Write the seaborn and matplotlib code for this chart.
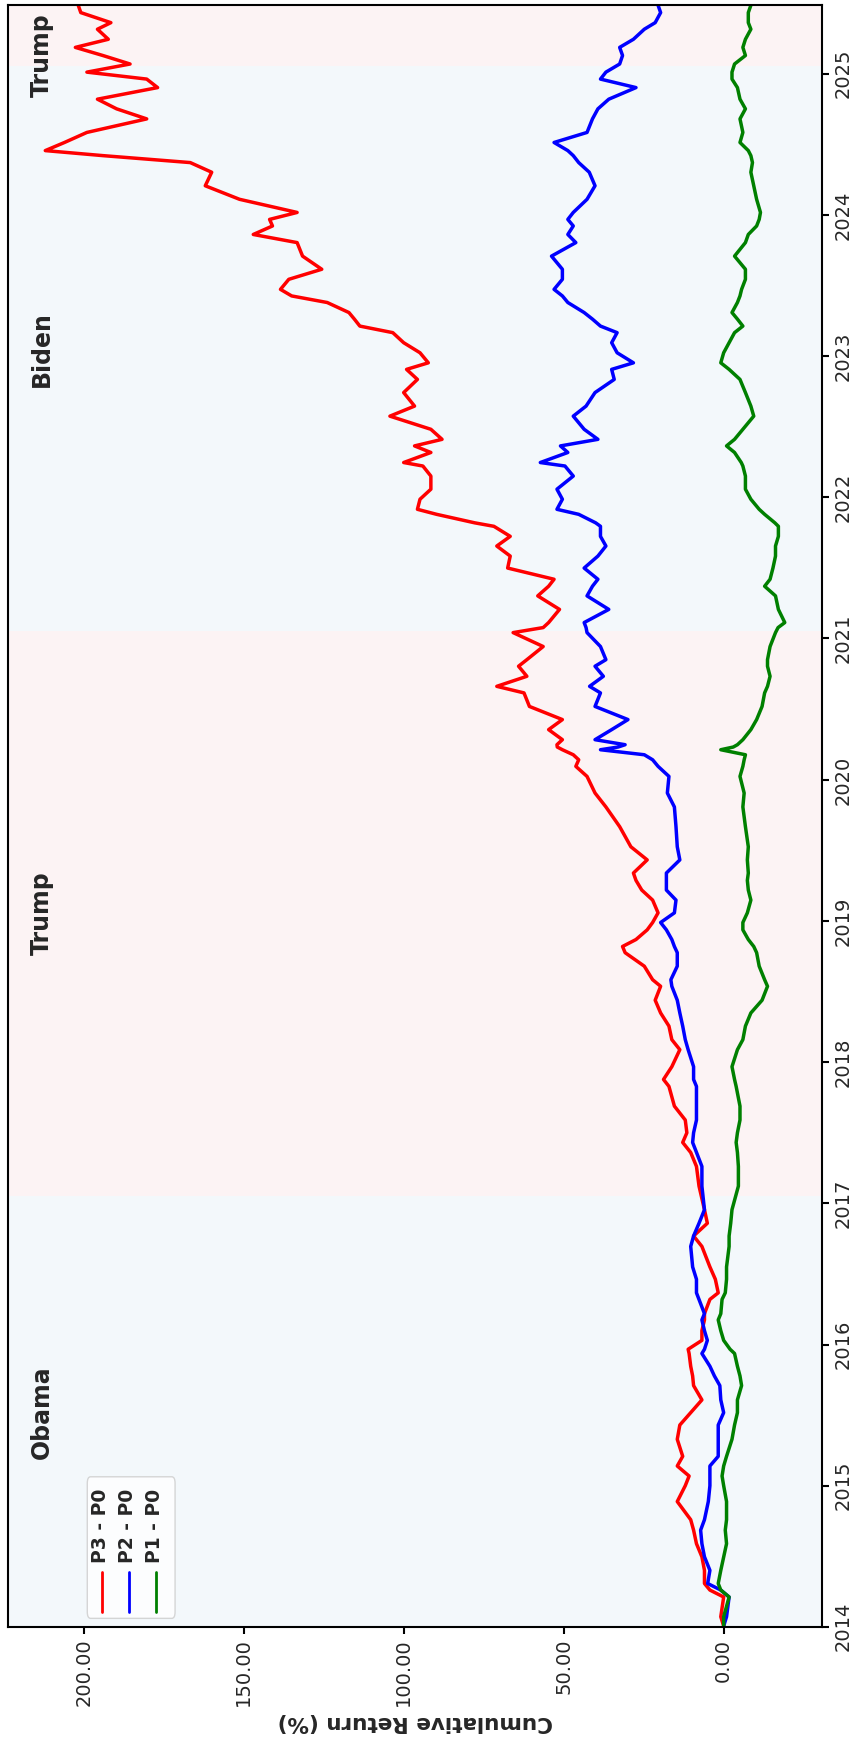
import pandas as pd
import numpy as np
import matplotlib
matplotlib.use('Agg')
import matplotlib.pyplot as plt
import matplotlib.dates as mdates
from matplotlib.patches import FancyBboxPatch
from matplotlib.lines import Line2D
import seaborn as sns

# fechas de muestreo (lectura aproximada del grafico)
dates = [
    '2014-01-03', '2014-01-27', '2014-03-19', '2014-04-06', '2014-04-23', '2014-05-27',
    '2014-07-01', '2014-08-04', '2014-09-08', '2014-10-05', '2014-11-21', '2015-01-01',
    '2015-01-26', '2015-02-21', '2015-03-18', '2015-05-01', '2015-06-07', '2015-07-09',
    '2015-08-11', '2015-09-17', '2015-10-12', '2015-11-06', '2015-12-09', '2015-12-20',
    '2016-01-12', '2016-02-06', '2016-03-05', '2016-03-21', '2016-04-27', '2016-05-14',
    '2016-06-18', '2016-07-20', '2016-09-11', '2016-10-08', '2016-11-10', '2016-12-15',
    '2017-02-14', '2017-04-06', '2017-05-12', '2017-06-07', '2017-07-02', '2017-08-04',
    '2017-09-09', '2017-10-30', '2017-11-17', '2017-12-20', '2018-02-02', '2018-02-28',
    '2018-04-04', '2018-05-08', '2018-06-10', '2018-07-16', '2018-08-02', '2018-09-06',
    '2018-10-11', '2018-10-27', '2018-11-14', '2018-12-09', '2018-12-28', '2019-01-22',
    '2019-02-24', '2019-03-22', '2019-04-16', '2019-05-05', '2019-06-08', '2019-07-12',
    '2019-09-02', '2019-10-23', '2019-11-28', '2020-01-10', '2020-02-05', '2020-02-22',
    '2020-03-06', '2020-03-19', '2020-03-26', '2020-04-01', '2020-04-14', '2020-05-10',
    '2020-06-05', '2020-07-09', '2020-08-13', '2020-08-30', '2020-09-25', '2020-10-21',
    '2020-11-07', '2020-12-11', '2021-01-16', '2021-01-29', '2021-02-11', '2021-03-17',
    '2021-04-21', '2021-05-16', '2021-06-03', '2021-07-02', '2021-08-02', '2021-08-28',
    '2021-09-22', '2021-10-18', '2021-10-27', '2021-11-18', '2021-12-01', '2021-12-27',
    '2022-01-22', '2022-02-25', '2022-03-23', '2022-04-01', '2022-04-27', '2022-05-14',
    '2022-05-31', '2022-06-26', '2022-07-30', '2022-08-25', '2022-09-29', '2022-11-02',
    '2022-11-28', '2022-12-15', '2023-01-10', '2023-02-05', '2023-03-03', '2023-03-20',
    '2023-04-07', '2023-04-24', '2023-05-20', '2023-06-06', '2023-06-23', '2023-07-19',
    '2023-08-14', '2023-09-17', '2023-10-22', '2023-11-12', '2023-12-04', '2023-12-21',
    '2024-01-08', '2024-02-11', '2024-03-17', '2024-04-21', '2024-05-16', '2024-06-03',
    '2024-06-16', '2024-07-07', '2024-08-02', '2024-09-06', '2024-10-02', '2024-10-27',
    '2024-11-26', '2024-12-18', '2025-01-05', '2025-01-26', '2025-02-17', '2025-03-10',
    '2025-03-31', '2025-04-26', '2025-05-13', '2025-06-08', '2025-06-27',
]

p3_p0 = [
    0.0, 0.9, 0.0, 4.3, 6.0, 6.0, 6.8, 8.5, 9.4, 10.3, 14.5, 12.0,
    10.8, 14.5, 12.8, 14.5, 13.7, 10.3, 6.8, 9.4, 9.7, 10.3, 10.8, 11.1,
    6.8, 6.8, 6.0, 6.0, 4.3, 1.7, 2.6, 4.3, 6.8, 9.4, 5.1, 6.0,
    7.7, 8.5, 10.3, 12.8, 11.5, 12.0, 15.4, 17.1, 18.8, 16.2, 13.7, 16.2,
    17.1, 19.7, 21.4, 19.7, 22.2, 24.8, 30.8, 31.6, 27.4, 23.9, 22.2, 20.5,
    22.2, 25.6, 27.4, 28.2, 23.9, 29.0, 32.5, 36.8, 40.2, 42.7, 46.2, 45.3,
    47.0, 50.4, 52.0, 52.1, 50.4, 54.7, 50.4, 60.7, 62.4, 70.9, 61.5, 64.1,
    61.5, 56.4, 65.8, 56.4, 54.7, 51.3, 58.1, 54.7, 53.0, 67.5, 66.7, 70.9,
    66.7, 71.8, 77.8, 89.7, 95.7, 94.9, 91.5, 91.5, 94.0, 100.0, 91.5, 96.6,
    88.0, 91.5, 104.3, 96.6, 100.0, 95.7, 99.1, 92.3, 94.9, 100.0, 103.4, 113.7,
    115.4, 117.1, 123.9, 135.0, 138.5, 135.9, 125.6, 131.6, 133.3, 147.0, 141.0, 141.9,
    133.3, 151.3, 162.0, 160.0, 166.7, 194.0, 212.0, 206.0, 199.0, 180.3, 189.7, 195.7,
    176.9, 180.3, 199.0, 185.5, 194.0, 202.6, 192.3, 195.7, 191.5, 200.9, 201.7,
]

p2_p0 = [
    0.0, -0.9, -1.7, 0.9, 5.0, 4.3, 6.0, 6.8, 7.2, 6.0, 4.8, 4.3,
    4.3, 4.3, 1.7, 1.7, 1.7, 0.0, 0.9, 1.2, 2.9, 4.3, 6.8, 6.0,
    5.1, 6.0, 6.8, 6.0, 7.7, 8.5, 8.5, 9.7, 10.3, 9.4, 7.7, 6.0,
    6.8, 6.8, 8.5, 9.7, 9.4, 8.5, 8.5, 8.5, 9.4, 9.4, 11.1, 12.0,
    12.8, 13.7, 14.5, 16.2, 16.5, 14.5, 14.5, 15.4, 16.2, 17.9, 19.7, 15.4,
    14.9, 17.9, 17.9, 17.9, 13.7, 14.5, 14.9, 15.4, 17.6, 17.1, 20.5, 22.2,
    24.8, 38.5, 33.0, 30.8, 40.2, 35.0, 29.9, 40.2, 38.5, 41.9, 37.6, 40.2,
    36.8, 38.5, 42.7, 43.0, 43.6, 35.9, 42.7, 41.0, 39.3, 43.6, 39.3, 36.8,
    38.5, 38.5, 40.0, 45.3, 52.1, 50.4, 52.1, 47.0, 49.6, 57.3, 48.7, 51.0,
    39.3, 43.6, 47.0, 43.0, 40.2, 34.2, 35.0, 28.2, 33.3, 35.0, 33.3, 38.5,
    41.0, 43.6, 48.7, 50.4, 53.0, 50.4, 50.4, 53.8, 46.2, 48.7, 47.0, 48.7,
    47.0, 42.7, 40.2, 42.0, 45.3, 47.0, 48.7, 53.0, 42.7, 41.0, 39.3, 35.9,
    27.4, 38.5, 36.8, 32.5, 31.6, 32.5, 28.2, 24.8, 21.4, 19.7, 20.5,
]

p1_p0 = [
    0.0, 0.0, -1.7, 0.9, 1.7, 0.9, 0.0, -0.9, -0.5, -0.9, -0.9, 0.0,
    0.5, 0.0, -0.9, -2.6, -3.4, -4.3, -4.3, -5.6, -5.1, -4.3, -3.4, -2.0,
    0.0, 0.9, 1.7, 0.9, 0.5, -0.5, -0.9, -0.9, -1.7, -1.7, -2.2, -2.6,
    -4.6, -4.6, -4.3, -3.9, -4.3, -5.1, -5.1, -3.9, -3.4, -2.6, -4.3, -6.0,
    -6.8, -8.5, -12.0, -13.7, -12.8, -11.1, -10.3, -9.4, -7.7, -6.0, -6.0, -7.4,
    -8.5, -7.7, -7.4, -7.7, -7.4, -7.7, -6.8, -6.0, -6.4, -5.1, -6.0, -6.4,
    -6.8, 0.9, -3.0, -4.3, -6.0, -8.5, -10.3, -12.0, -12.8, -13.7, -14.5, -13.7,
    -13.7, -14.5, -16.2, -17.0, -19.1, -17.1, -16.2, -12.8, -14.5, -15.4, -16.2, -16.2,
    -17.1, -17.1, -16.0, -12.8, -11.1, -8.5, -6.8, -6.8, -6.0, -5.5, -3.4, -0.9,
    -3.4, -6.0, -9.4, -8.5, -6.8, -5.1, -1.7, 0.9, 0.0, -1.7, -3.4, -6.0,
    -4.3, -2.6, -4.3, -5.1, -5.6, -6.8, -6.8, -3.4, -6.8, -7.7, -10.3, -11.1,
    -11.5, -10.3, -9.4, -8.5, -9.0, -8.5, -7.7, -5.1, -6.0, -5.1, -6.8, -5.1,
    -4.3, -2.6, -2.6, -3.4, -6.8, -6.0, -6.8, -8.5, -7.7, -7.7, -8.5,
]

series_names = ['P3 - P0', 'P2 - P0', 'P1 - P0']
series_colors = ['red', 'blue', 'green']

# periodos presidenciales
periods = ['Obama', 'Trump', 'Biden', 'Trump']
period_start = ['2014-01-01', '2017-01-20', '2021-01-20', '2025-01-20']
period_end = ['2017-01-20', '2021-01-20', '2025-01-20', '2025-06-27']
period_label_at = ['2015-07-11', '2019-01-20', '2023-01-20', '2025-02-17']
period_colors = ['#1f77b4', '#d62728', '#1f77b4', '#d62728']

df = pd.DataFrame({'date': pd.to_datetime(dates),
                   'P3 - P0': p3_p0, 'P2 - P0': p2_p0, 'P1 - P0': p1_p0})
largo = df.melt(id_vars='date', var_name='serie', value_name='ret')

sns.set_style('ticks')
plt.rcParams['font.family'] = ['DejaVu Sans']
plt.rcParams['axes.edgecolor'] = 'black'
plt.rcParams['axes.linewidth'] = 1.5

fig = plt.figure(figsize=(8.56, 17.53), dpi=100)
ax = fig.add_axes([0.0097, 0.072, 0.9503, 0.925])

sns.lineplot(data=largo, x='ret', y='date', hue='serie', hue_order=series_names,
             palette=dict(zip(series_names, series_colors)), orient='y',
             estimator=None, linewidth=2.5, legend=False, ax=ax)

# sombreado por periodo (grafico girado: fechas en el eje vertical)
for ini, fin, col in zip(period_start, period_end, period_colors):
    ax.axhspan(pd.Timestamp(ini), pd.Timestamp(fin), color=col, alpha=0.05, lw=0, zorder=0)

trans = ax.get_yaxis_transform()
for nombre, pos in zip(periods, period_label_at):
    ax.text(0.041, pd.Timestamp(pos), nombre, transform=trans, rotation=90,
            ha='center', va='center', fontsize=17, fontweight='bold')

ax.invert_xaxis()
ax.set_ylim(pd.Timestamp(dates[0]), pd.Timestamp(dates[-1]))

ax.set_xticks([0, 50, 100, 150, 200])
ax.set_xticklabels([f'{v:.2f}' for v in [0, 50, 100, 150, 200]], rotation=90, fontsize=14)
ax.set_xlabel('Cumulative Return (%)', fontsize=15.5, fontweight='bold', rotation=180)
ax.set_ylabel('')

year_ticks = [pd.Timestamp(f'{y}-01-01') for y in range(2014, 2026)]
ax.yaxis.tick_right()
ax.set_yticks(year_ticks)
ax.set_yticklabels([str(y) for y in range(2014, 2026)], rotation=90, va='center', fontsize=14)
ax.tick_params(axis='both', length=5, width=1.5, color='black')

# leyenda dibujada a mano porque tambien va girada
caja = FancyBboxPatch((0.0971, 0.0052), 0.1079, 0.0873, boxstyle='round,pad=0,rounding_size=0.004',
                      transform=ax.transAxes, facecolor='white', alpha=0.8,
                      edgecolor='0.8', lw=1, zorder=5)
ax.add_patch(caja)
for xc, nombre, col in zip([0.1148, 0.1484, 0.1816], series_names, series_colors):
    ax.add_line(Line2D([xc, xc], [0.0092, 0.0339], transform=ax.transAxes,
                       color=col, lw=2, zorder=6))
    ax.text(xc - 0.002, 0.0393, nombre, transform=ax.transAxes, rotation=90,
            ha='center', va='bottom', fontsize=13.5, fontweight='bold', zorder=6)

sns.despine(ax=ax, top=False, right=False)
plt.savefig('out.png', dpi=100)
print('ok')
